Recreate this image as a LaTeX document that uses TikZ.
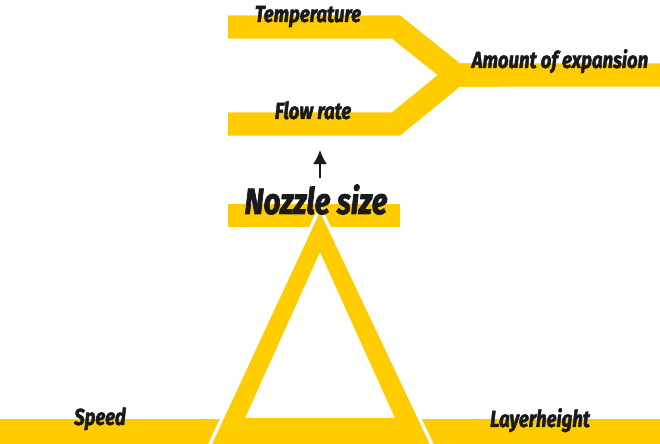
\documentclass[tikz,border=0pt]{standalone}
\usepackage{fontspec}
\newfontfamily\lblfont[FakeStretch=0.8,BoldItalicFeatures={FakeBold=2}]{Fira Sans}
\usepackage{tikz}
\usetikzlibrary{arrows.meta}
\definecolor{gold}{RGB}{255,204,0}
\definecolor{ink}{RGB}{26,26,26}
\tikzstyle{BAR}+=[draw=gold,line width=16.4pt,line join=miter]
\tikzstyle{LBL}+=[anchor=base,text=ink,inner sep=0pt,font=\lblfont\bfseries\itshape\fontsize{16.5}{19}\selectfont]
\tikzstyle{BIG}+=[LBL,font=\lblfont\bfseries\itshape\fontsize{26}{31}\selectfont]

\begin{document}
\begin{tikzpicture}[x=0.025cm,y=-0.025cm]
        \useasboundingbox (0,0) rectangle (660,444);
        \clip (0,0) rectangle (660,444);

        \begin{scope}
            \draw[BAR] (228,27) -- (396,27) -- (456,75) -- (660,75);
            \draw[BAR] (228,124) -- (396,124) -- (456,75) -- (500,75);
            \draw[BAR] (228,215.5) -- +(172,0);
            \fill[gold] (0,419.5) rectangle (660,460);
        \end{scope}

        \begin{scope}
            \filldraw[white,line width=5pt,line join=miter] (320,212) -- (200,470) -- (442,470) -- cycle;
            \fill[gold,even odd rule] (320,212) -- (200,470) -- (442,470) -- cycle
                (320,252) -- (245,418) -- (395,418) -- cycle;
        \end{scope}

        \node[LBL] (temp) at (308,22) {Temperature};
        \node[LBL] (flow) at (313,119) {Flow rate};
        \node[LBL] (amount) at (560,68) {Amount of expansion};
        \node[BIG] (nozzle) at (316,214) {Nozzle size};
        \node[LBL] (speed) at (100,425) {Speed};
        \node[LBL] (layer) at (540,427) {Layerheight};

        \coordinate (tail) at (320,178);
        \coordinate (tip) at (320,150);
        \draw[ink,line width=1.6pt,-{Latex[length=10pt,width=10pt]}] (tail) -- (tip);

    \end{tikzpicture}
\end{document}
